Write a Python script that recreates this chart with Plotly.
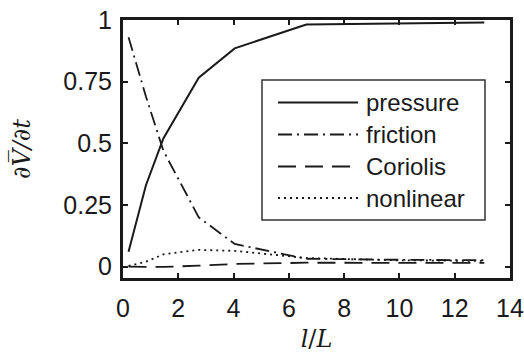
import plotly.graph_objects as go

# data
x_vals = [0.2, 0.83, 1.46, 2.74, 4.04, 6.63, 9.85, 13.07]
pressure = [0.06, 0.33, 0.52, 0.766, 0.885, 0.982, 0.986, 0.99]
friction = [0.93, 0.69, 0.47, 0.20, 0.092, 0.032, 0.028, 0.026]
coriolis = [0.0, 0.0, -0.001, 0.004, 0.011, 0.016, 0.016, 0.015]
nonlinear = [0.003, 0.02, 0.05, 0.068, 0.064, 0.035, 0.026, 0.023]

series_names = ["pressure", "friction", "Coriolis", "nonlinear"]
x_ticks = [0, 2, 4, 6, 8, 10, 12, 14]
y_ticks = [0, 0.25, 0.5, 0.75, 1]
y_ticklabels = ["0", "0.25", "0.5", "0.75", "1"]

W, H = 524, 353
ML, MR, MT, MB = 123, 14, 20, 75
PW, PH = W - ML - MR, H - MT - MB

dashes = ["solid", "14px,5px,2px,5px", "18px,9px", "2px,4px"]
widths = [2, 1.8, 1.8, 1.8]
ink = "#1a1a1a"

fig = go.Figure()
for name, ys, d, w in zip(series_names, [pressure, friction, coriolis, nonlinear], dashes, widths):
    fig.add_trace(go.Scatter(x=x_vals, y=ys, mode="lines", name=name,
                             line=dict(color=ink, width=w, dash=d), showlegend=False))

font_tick = dict(family="Liberation Sans, Arial, sans-serif", size=25, color=ink)
font_leg = dict(family="Liberation Sans, Arial, sans-serif", size=24, color=ink)

axis_common = dict(showline=True, linewidth=3, linecolor=ink, mirror="ticks",
                   ticks="inside", ticklen=5, tickwidth=2, tickcolor=ink,
                   showgrid=False, zeroline=False, tickfont=font_tick,
                   automargin=False, ticklabeloverflow="allow")

fig.update_xaxes(range=[0, 14], tickvals=x_ticks, ticklabelstandoff=6,
                 title=dict(text="<i>l</i>/<i>L</i>", standoff=12,
                            font=dict(family="DejaVu Serif, serif", size=24, color=ink)),
                 **axis_common)
fig.update_yaxes(range=[-0.046, 1.0], tickvals=y_ticks, ticktext=y_ticklabels,
                 ticklabelstandoff=3,
                 title=dict(text="<i>∂V̅/∂t</i>", standoff=26,
                            font=dict(family="DejaVu Serif, serif", size=24, color=ink)),
                 **axis_common)

# manual legend box (pixel positions converted to paper coords)
def px(xp):
    return (xp - ML) / PW

def py(yp):
    return (H - MB - yp) / PH

shapes = [dict(type="rect", xref="paper", yref="paper",
               x0=px(262), x1=px(485), y0=py(220), y1=py(80),
               line=dict(color="#333333", width=1.5), fillcolor="white", layer="above")]
annotations = []
row_y = [102.5, 134.5, 166.5, 198]
for name, d, w, ry in zip(series_names, dashes, widths, row_y):
    shapes.append(dict(type="line", xref="paper", yref="paper",
                       x0=px(278), x1=px(358), y0=py(ry), y1=py(ry),
                       line=dict(color=ink, width=2.2 if d == "solid" else w, dash=d),
                       layer="above"))
    annotations.append(dict(xref="paper", yref="paper", x=px(364), y=py(ry),
                            text=name, showarrow=False, xanchor="left", yanchor="middle",
                            font=font_leg))

fig.update_layout(width=W, height=H, margin=dict(l=ML, r=MR, t=MT, b=MB),
                  plot_bgcolor="white", paper_bgcolor="white",
                  shapes=shapes, annotations=annotations, showlegend=False)

fig.write_html("out.html")
